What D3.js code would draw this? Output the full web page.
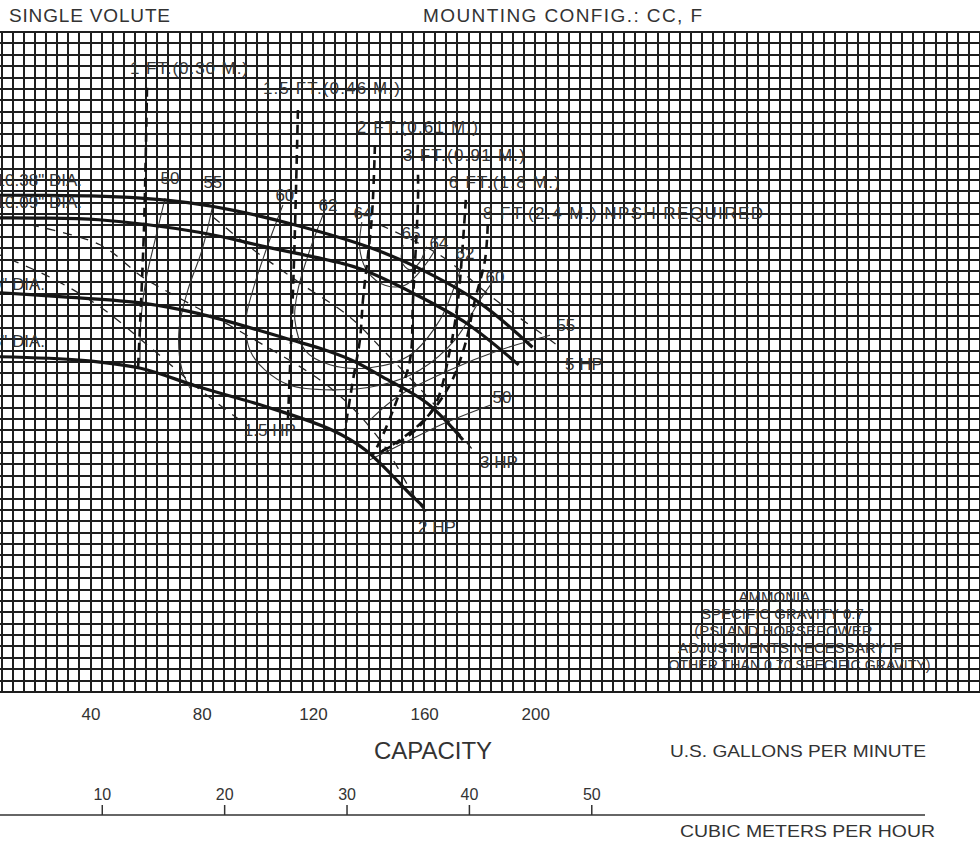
<!DOCTYPE html>
<html><head><meta charset="utf-8">
<script src="https://cdn.jsdelivr.net/npm/d3@7/dist/d3.min.js"></script>
<style>
body{margin:0;background:#fff;}
svg text{font-family:"Liberation Sans",Arial,Helvetica,sans-serif;fill:#333;}
</style></head><body>
<svg id="chart" width="980" height="841"></svg>
<script>
// ---------- DATA (capacity in US gpm, head in ft) ----------
const gpmTicks = [40, 80, 120, 160, 200];
const m3hTicks = [10, 20, 30, 40, 50];

const impellerNames = ['10.38" DIA.', '10.09" DIA.', '9.50" DIA.', '8.75" DIA.'];
const impA = [[0,87.3],[20,87.3],[40,87.2],[58,86.8],[75,86.0],[91,84.7],[115,81.9],[140,78.2],[158,74.5],[180,68.4],[199,60.6]];
const impB = [[0,83.3],[20,83.3],[43,83.0],[79,80.8],[103.5,78.2],[130,75.4],[138,74.2],[156,70.1],[175,64.9],[194,57.5]];
const impC = [[0,70.4],[31.5,69.4],[58,68.4],[79,66.5],[112,61.9],[122.5,60.4],[134,58.3],[145,55.4],[161,50.8],[174,44.3]];
const impD = [[0,59.0],[37,58.3],[58,56.9],[79,53.6],[103.5,50.1],[127,46.0],[139,42.5],[156,34.3],[160,32.5]];
const impLabelPos = [[36.9,90.0],[36.9,86.1],[23.6,71.7],[23.6,61.7]];

const npshNames = ['1 FT.(0.30 M.)','1.5 FT.(0.46 M.)','2 FT.(0.61 M.)','3 FT.(0.91 M.)','6 FT.(1.8 M.)','8 FT.(2.4 M.) NPSH REQUIRED'];
const npsh1  = [[60.3,106.2],[59.2,81.2],[57.1,57.1]];
const npsh15 = [[114.6,102.3],[113.2,75.9],[111,47.8]];
const npsh2  = [[142.3,96.1],[141.2,83.5],[138,68.9],[136.9,61.9],[134.4,54.8],[131.5,46.0]];
const npsh3  = [[157.8,90.9],[157.8,86.5],[156,68.9],[154.9,58.3],[150.2,51.3],[145.2,45.2],[141.6,41.7]];
const npsh6  = [[175.0,86.5],[173.9,78.6],[172.2,68.9],[169.3,60.1],[163.9,50.4],[154.9,45.2],[144.1,42.2]];
const npsh8  = [[182.9,82.1],[181.9,75.9],[178.3,68.9],[174.7,61.0],[169.3,54.0],[161.0,48.3],[151.3,44.3],[142.3,41.6]];
const npshLabelPos = [[54.2,109.7],[102.0,106.2],[135.8,99.3],[152.4,94.4],[168.9,89.6],[181.2,84.2]];
const npshLabelLen = [118, 137, 121, 122, 111, 280];

const hpNames = ['1.5 HP','2 HP','3 HP','5 HP'];
const hp15 = [[0,78.5],[7.4,76.8],[25.4,72.9],[43.4,67.7],[61.4,60.6],[79.4,53.1],[93.7,47.8]];
const hp2  = [[18.2,82.1],[43.4,78.6],[58.8,72.9],[73.2,68.9],[94.8,63.1],[127.2,53.1],[144.1,44.3],[158.5,32.9],[162.1,31.1]];
const hp3  = [[84.0,83.5],[97.3,78.2],[115.3,71.9],[133.3,65.9],[145.2,60.1],[163.2,50.8],[177.6,42.5]];
const hp5  = [[144.1,82.1],[165.7,76.8],[182.6,70.1],[192.0,66.6],[199.1,64.1],[208.9,60.6]];
const hpLabelPos = [[104.5,46.0],[164.6,29.0],[186.9,40.4],[217.5,57.6]];

const effL50 = [[66.8,86.8],[63.2,79.4],[59.9,72.4],[58.1,65.4],[57.8,58.0]];
const effL55 = [[84.0,85.6],[80.1,77.7],[75.0,70.65],[71.8,63.6],[72.9,56.6],[75.8,53.4]];
const eff60  = [[109.2,85.6],[103.8,78.6],[98.4,70.65],[95.9,65.4],[97.3,60.1],[102.7,56.6],[111.7,53.9],[126.1,53.1],[144.1,53.9],[158.5,56.6],[171.1,61.9],[180.1,68.9],[184.4,71.9]];
const eff62  = [[124.3,84.7],[118.9,77.7],[114.6,70.65],[113.5,65.4],[117.1,60.1],[126.1,57.5],[140.5,57.0],[154.9,59.2],[165.7,65.4],[171.1,71.5],[173.6,75.0]];
const eff64  = [[137.6,82.6],[136.9,77.7],[139.8,73.8],[145.9,71.5],[153.1,71.5],[160.3,75.0],[163.9,77.7]];
const eff65  = [[152.4,78.6],[152.0,75.6],[154.9,74.2],[158.5,75.6],[160.3,77.7]];
const effR55 = [[205.3,62.7],[187.3,60.1],[169.3,56.6],[151.3,52.2],[140.5,47.8]];
const effR50 = [[183.7,50.4],[165.7,46.9],[151.3,43.4],[140.5,40.8]];
const effLabels = ['50','55','60','62','64','65','64','62','60','55','50'];
const effLabelPos = [[68.6,90.3],[84.0,89.6],[109.9,87.3],[125.4,85.6],[138.0,84.2],[155.3,80.7],[165.3,78.9],[174.7,77.2],[185.5,72.9],[211.0,64.5],[188.0,51.8]];

const noteLines = ['AMMONIA','SPECIFIC GRAVITY 0.7','(PSI AND HORSEPOWER','ADJUSTMENTS NECESSARY IF','OTHER THAN 0.70 SPECIFIC GRAVITY)'];
const notePos = [290.0, 16.7];

// ---------- SCALES ----------
const svg = d3.select('#chart');
const GPM_PER_M3H = 4.4029;
const x = d3.scaleLinear().domain([0, 360]).range([-20.6, 980]);
const y = d3.scaleLinear().domain([0, 116]).range([692, 32]);
const xm = d3.scaleLinear().domain([0, 360 / GPM_PER_M3H]).range([-20.6, 980]);

svg.append('rect').attr('width',980).attr('height',841).attr('fill','#fff');

// ---------- GRID ----------
const grid = svg.append('g').attr('stroke','#1e1e1e').attr('stroke-width',1.6).attr('shape-rendering','crispEdges');
grid.selectAll('line.v').data(d3.range(8, 361, 4)).join('line')
  .attr('x1', d => Math.round(x(d))).attr('x2', d => Math.round(x(d)))
  .attr('y1', y(0)).attr('y2', y(116));
grid.selectAll('line.h').data(d3.range(0, 117, 2)).join('line')
  .attr('x1', 0).attr('x2', 980)
  .attr('y1', d => Math.round(y(d))).attr('y2', d => Math.round(y(d)));

const line = d3.line().x(d => x(d[0])).y(d => y(d[1])).curve(d3.curveCatmullRom.alpha(0.5));

// efficiency curves
const effG = svg.append('g').attr('fill','none').attr('stroke','#333').attr('stroke-width',1.1);
[effL50, effL55, eff60, eff62, eff64, eff65, effR55, effR50].forEach(c => effG.append('path').attr('d', line(c)));

// HP lines
const hpG = svg.append('g').attr('fill','none').attr('stroke','#222').attr('stroke-width',1.3).attr('stroke-dasharray','9,8');
[hp15, hp2, hp3, hp5].forEach(c => hpG.append('path').attr('d', line(c)));

// NPSH lines
const npG = svg.append('g').attr('fill','none').attr('stroke','#111').attr('stroke-width',2.6).attr('stroke-dasharray','9,6');
[npsh1, npsh15, npsh2, npsh3, npsh6, npsh8].forEach(c => npG.append('path').attr('d', line(c)));

// impeller curves
const impG = svg.append('g').attr('fill','none').attr('stroke','#151515').attr('stroke-width',3.2);
[impA, impB, impC, impD].forEach(c => impG.append('path').attr('d', line(c)));

// ---------- LABELS ----------
const lab = svg.append('g').attr('font-size', 17);
impellerNames.forEach((t,i) => lab.append('text').attr('x', x(impLabelPos[i][0])).attr('y', y(impLabelPos[i][1])).attr('dy','0.35em').attr('text-anchor','end').text(t));
npshNames.forEach((t,i) => lab.append('text').attr('x', x(npshLabelPos[i][0])).attr('y', y(npshLabelPos[i][1])).attr('dy','0.35em')
  .attr('textLength', npshLabelLen[i]).text(t));
hpNames.forEach((t,i) => lab.append('text').attr('x', x(hpLabelPos[i][0])).attr('y', y(hpLabelPos[i][1])).attr('dy','0.35em').attr('text-anchor','middle').text(t));
effLabels.forEach((t,i) => lab.append('text').attr('x', x(effLabelPos[i][0])).attr('y', y(effLabelPos[i][1])).attr('dy','0.35em').attr('text-anchor','middle').text(t));

const noteShift = [-11, -3, -2, 5, 14];
const note = svg.append('g').attr('font-size', 15).attr('text-anchor','middle');
noteLines.forEach((t,i) => {
  const tx = note.append('text').attr('x', x(notePos[0]) + noteShift[i]).attr('y', y(notePos[1]) + i*17).attr('dy','0.35em').text(t);
  if (i === 4) tx.attr('textLength', 262).attr('lengthAdjust','spacingAndGlyphs');
});

// titles
svg.append('text').attr('x', 9).attr('y', 22).attr('font-size', 19).attr('textLength', 161).text('SINGLE VOLUTE');
svg.append('text').attr('x', 423).attr('y', 22).attr('font-size', 19).attr('textLength', 279).text('MOUNTING CONFIG.:  CC,  F');

// ---------- AXES ----------
const gAx = svg.append('g').attr('transform', `translate(0,${y(0)})`)
  .call(d3.axisBottom(x).tickValues(gpmTicks).tickSize(0).tickPadding(16));
gAx.select('.domain').remove();
gAx.selectAll('text').attr('font-size', 17).attr('font-family','Liberation Sans, Arial, sans-serif').attr('fill','#333');

svg.append('text').attr('x', 433).attr('y', 759).attr('text-anchor','middle').attr('font-size', 24).text('CAPACITY');
svg.append('text').attr('x', 670).attr('y', 757).attr('font-size', 17).attr('textLength', 256).attr('lengthAdjust','spacingAndGlyphs').text('U.S. GALLONS PER MINUTE');

const mAx = svg.append('g').attr('transform','translate(0,815)')
  .call(d3.axisTop(xm).tickValues(m3hTicks).tickSize(10).tickPadding(5));
mAx.select('.domain').remove();
mAx.selectAll('line').attr('stroke','#333').attr('stroke-width',1.5);
mAx.selectAll('text').attr('font-size', 16).attr('font-family','Liberation Sans, Arial, sans-serif').attr('fill','#333');
svg.append('line').attr('x1', 0).attr('x2', 925).attr('y1', 815).attr('y2', 815).attr('stroke','#333').attr('stroke-width',1.5);
svg.append('text').attr('x', 680).attr('y', 837).attr('font-size', 17).attr('textLength', 255).attr('lengthAdjust','spacingAndGlyphs').text('CUBIC METERS PER HOUR');
</script></body></html>
